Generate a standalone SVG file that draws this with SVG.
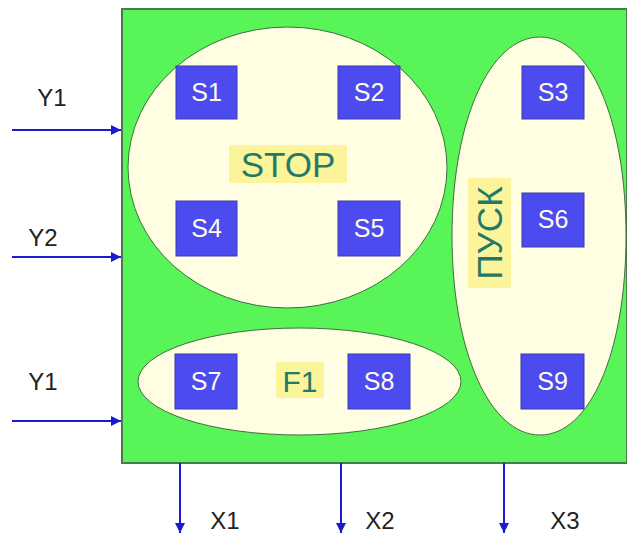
<svg xmlns="http://www.w3.org/2000/svg" width="627" height="535" viewBox="0 0 627 535">
<style>
.ell{fill:#fffde2;stroke:#3f6f3f;stroke-width:1}
.box rect{fill:#4b4bef;stroke:#3a3ab0;stroke-width:1}
.box text{font-family:"Liberation Sans",Arial,sans-serif;font-size:25px;fill:#fffbe8;text-anchor:middle}
.hl{fill:#fbf49a}
.grp{font-family:"Liberation Sans",Arial,sans-serif;fill:#1f7a6a;text-anchor:middle}
.lbl{font-family:"Liberation Sans",Arial,sans-serif;font-size:24px;fill:#222;text-anchor:middle}
.arr{stroke:#1a1ad0;stroke-width:2;fill:none;marker-end:url(#ah)}
</style>
<defs>
<marker id="ah" viewBox="0 0 10 10" refX="10" refY="5" markerWidth="5" markerHeight="5" orient="auto" markerUnits="strokeWidth">
<path d="M0,0 L10,5 L0,10 z" fill="#1a1ad0"/>
</marker>
</defs>
<rect width="627" height="535" fill="#fff"/>
<g id="block">
<rect x="122" y="9" width="505" height="454" fill="#58f458" stroke="#4a7a4a" stroke-width="2"/>
</g>
<g id="stop">
<ellipse class="ell" cx="287.5" cy="167.5" rx="159.5" ry="140.5"/>
<rect class="hl" x="229" y="145" width="118" height="38"/>
<text class="grp" x="288" y="177" font-size="35">STOP</text>
</g>
<g id="pusk">
<path class="ell" d="M540,37 C590,37 626,120 626,236 C626,352 590,435 540,435 C490,435 452,352 452,236 C452,120 490,37 540,37 Z"/>
<rect class="hl" x="468" y="178" width="43" height="110"/>
<text class="grp" transform="translate(502,233) rotate(-90)" x="0" y="0" font-size="35">ПУСК</text>
</g>
<g id="f1">
<ellipse class="ell" cx="299.5" cy="381.5" rx="161.5" ry="53.5"/>
<rect class="hl" x="276" y="362" width="48" height="36"/>
<text class="grp" x="300" y="392" font-size="30">F1</text>
</g>
<g id="S1" class="box"><rect x="176" y="66" width="61" height="53"/><text x="206.5" y="101">S1</text></g>
<g id="S2" class="box"><rect x="338" y="66" width="62" height="53"/><text x="369" y="101">S2</text></g>
<g id="S3" class="box"><rect x="522" y="66" width="62" height="53"/><text x="553" y="101">S3</text></g>
<g id="S4" class="box"><rect x="176" y="201" width="61" height="55"/><text x="206.5" y="237">S4</text></g>
<g id="S5" class="box"><rect x="338" y="201" width="62" height="55"/><text x="369" y="237">S5</text></g>
<g id="S6" class="box"><rect x="522" y="193" width="62" height="54"/><text x="553" y="228">S6</text></g>
<g id="S7" class="box"><rect x="175" y="354" width="62" height="55"/><text x="206" y="390">S7</text></g>
<g id="S8" class="box"><rect x="348" y="354" width="62" height="55"/><text x="379" y="390">S8</text></g>
<g id="S9" class="box"><rect x="521" y="354" width="63" height="55"/><text x="552.5" y="390">S9</text></g>
<g id="connectors">
<line class="arr" x1="12" y1="130" x2="121" y2="130"/>
<line class="arr" x1="12" y1="257" x2="121" y2="257"/>
<line class="arr" x1="12" y1="421" x2="121" y2="421"/>
<line class="arr" x1="180" y1="463" x2="180" y2="533"/>
<line class="arr" x1="341" y1="463" x2="341" y2="533"/>
<line class="arr" x1="504" y1="463" x2="504" y2="533"/>
</g>
<g id="labels">
<text class="lbl" x="52" y="106">Y1</text>
<text class="lbl" x="43" y="246">Y2</text>
<text class="lbl" x="43" y="390">Y1</text>
<text class="lbl" x="225" y="529">X1</text>
<text class="lbl" x="380" y="529">X2</text>
<text class="lbl" x="565" y="529">X3</text>
</g>
</svg>
